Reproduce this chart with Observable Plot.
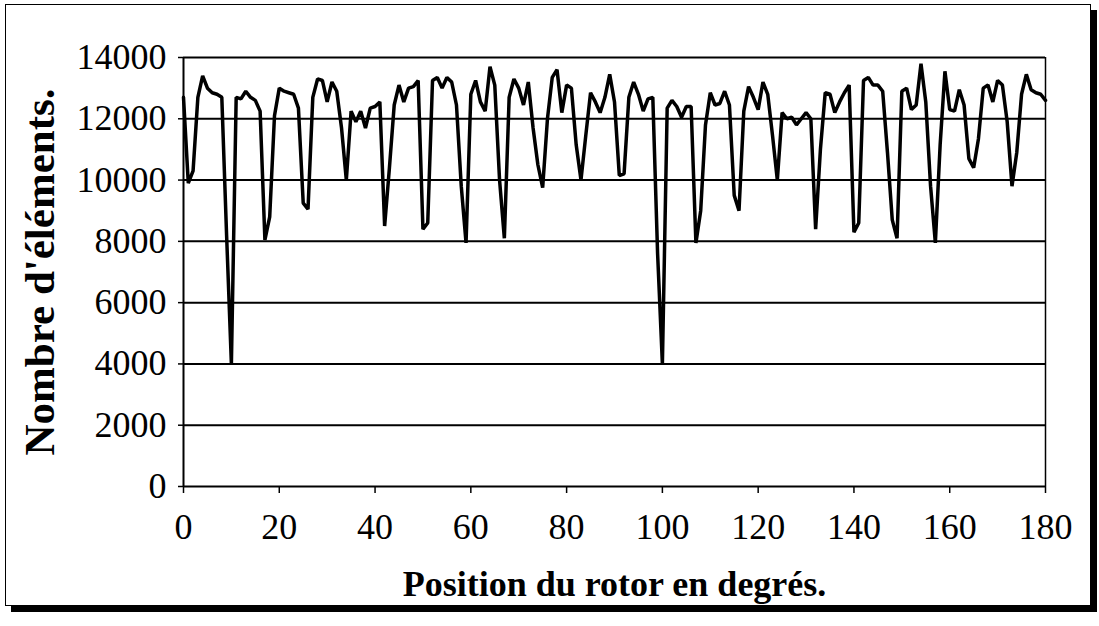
<!DOCTYPE html>
<html><head><meta charset="utf-8">
<script src="https://cdn.jsdelivr.net/npm/d3@7"></script>
<script src="https://cdn.jsdelivr.net/npm/@observablehq/plot@0.6"></script>
<style>
body{margin:0;background:#fff;width:1099px;height:626px;overflow:hidden;position:relative;}
#frame{position:absolute;left:5px;top:4px;width:1084px;height:600px;border:1.5px solid #000;box-shadow:6px 6px 0 #000;background:#fff;}
#chart{position:absolute;left:0;top:0;}
</style></head><body>
<div id="frame"></div><div id="chart"></div>
<script>
// Nombre d'éléments for rotor positions 0..180 degrees (1 degree step)
const elements = [
12700, 9900,10300,12700,13400,13000,12850,12800,12700, 8200,
 4000,12700,12650,12900,12700,12600,12250, 8050, 8800,12100,
13000,12900,12850,12800,12350, 9250, 9050,12700,13300,13250,
12550,13200,12900,11700,10000,12250,11900,12250,11700,12350,
12400,12550, 8500,10400,12450,13100,12550,13000,13050,13250,
 8400, 8600,13250,13350,13000,13350,13200,12450, 9800, 7950,
12800,13250,12550,12250,13700,13100,10000, 8100,12700,13300,
13000,12450,13200,11700,10500, 9750,12000,13350,13600,12200,
13100,13000,11150,10000,11450,12850,12550,12200,12700,13450,
12550,10150,10200,12700,13200,12800,12250,12650,12700, 7600,
 4000,12350,12600,12400,12050,12400,12400, 7950, 9000,11800,
12850,12450,12500,12900,12450, 9500, 9000,12250,13050,12700,
12300,13200,12800,11450,10000,12200,12000,12050,11800,12000,
12200,12000, 8400,11000,12850,12800,12200,12550,12850,13100,
 8300, 8600,13250,13350,13100,13100,12900,10900, 8700, 8100,
12900,13000,12300,12450,13800,12550, 9800, 7950,11150,13550,
12300,12250,12950,12450,10700,10400,11350,13000,13100,12550,
13250,13100,11900, 9800,10900,12800,13450,12950,12850,12800,
12600
];
const xTicks = [0,20,40,60,80,100,120,140,160,180];
const yTicks = [0,2000,4000,6000,8000,10000,12000,14000];
const xTitle = "Position du rotor en degrés.";
const yTitle = "Nombre d'éléments.";

const data = elements.map((n, deg) => ({deg, n}));

const chart = Plot.plot({
  width: 1099,
  height: 626,
  marginLeft: 183,
  marginRight: 54,
  marginTop: 57,
  marginBottom: 140,
  x: {domain: [0, 180]},
  y: {domain: [0, 14000]},
  style: {fontFamily: "'Liberation Serif', 'Times New Roman', serif", fontSize: "36px", color: "#000", background: "transparent", overflow: "visible"},
  marks: [
    Plot.gridY(yTicks, {stroke: "#000", strokeOpacity: 1, strokeWidth: 2}),
    Plot.ruleX([180], {stroke: "#000", strokeWidth: 1.5}),
    Plot.ruleX([0], {stroke: "#000", strokeWidth: 2}),
    Plot.axisX(xTicks, {tickSize: 7, tickPadding: 20, label: null, tickFormat: d => String(d), stroke: "#000", strokeWidth: 1.5, fontSize: 36}),
    Plot.axisY(yTicks, {tickSize: 5, tickPadding: 12, label: null, tickFormat: d => String(d), stroke: "#000", strokeWidth: 1.5, fontSize: 36}),
    Plot.lineY(data, {x: "deg", y: "n", stroke: "#000", strokeWidth: 3.5, strokeLinejoin: "miter"}),
    Plot.text([xTitle], {frameAnchor: "bottom", dy: 109, fontSize: 36, fontWeight: "bold", fill: "#000"}),
    Plot.text([yTitle], {frameAnchor: "left", dx: -143, rotate: -90, textAnchor: "middle", fontSize: 43, fontWeight: "bold", fill: "#000"})
  ]
});
document.getElementById("chart").appendChild(chart);
</script>
</body></html>
